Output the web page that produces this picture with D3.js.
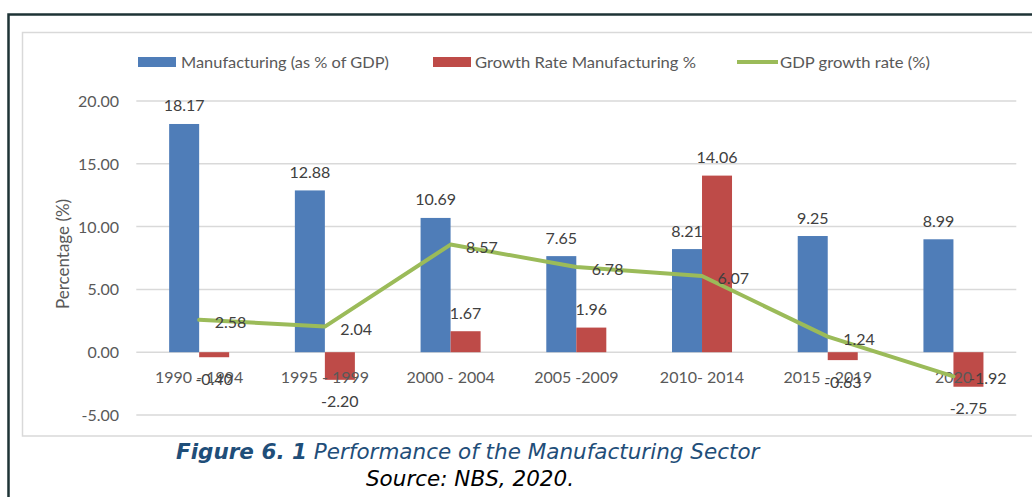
<!DOCTYPE html>
<html>
<head>
<meta charset="utf-8">
<script src="https://cdn.jsdelivr.net/npm/d3@7/dist/d3.min.js"></script>
<style>
  html, body { margin: 0; padding: 0; background: #ffffff; }
  svg { display: block; }
</style>
</head>
<body>
<svg id="chart" width="1032" height="497"></svg>
<script>
// Manufacturing sector indicators by period
const categories = ["1990 - 1994", "1995 - 1999", "2000 - 2004", "2005 -2009", "2010- 2014", "2015 - 2019", "2020"];
const manufShare = [18.17, 12.88, 10.69, 7.65, 8.21, 9.25, 8.99];
const manufGrowth = [-0.40, -2.20, 1.67, 1.96, 14.06, -0.63, -2.75];
const gdpGrowth = [2.58, 2.04, 8.57, 6.78, 6.07, 1.24, -1.92];
const yTicks = [-5, 0, 5, 10, 15, 20];
const seriesNames = ["Manufacturing (as % of GDP)", "Growth Rate Manufacturing %", "GDP growth rate (%)"];

const COLORS = { share: "#4F7DB8", growth: "#BE4B48", gdp: "#9BBB59" };
const TEXT = "#595959";
const LABEL = "#404040";
const FONT = "Lato, 'Open Sans', sans-serif";
const FS = 16;

// Plain hyphen for negative numbers
const fmt = d3.formatLocale({ decimal: ".", thousands: ",", grouping: [3], currency: ["", ""], minus: "-" }).format(".2f");

const svg = d3.select("#chart");

// Frame: dark outer rule and light chart-area border
svg.append("rect").attr("x", 22.5).attr("y", 32.5).attr("width", 1040).attr("height", 403.5)
  .attr("fill", "none").attr("stroke", "#D9D9D9").attr("stroke-width", 1.5);
svg.append("path").attr("d", "M8.5,497 V14.5 H1032")
  .attr("fill", "none").attr("stroke", "#1E3336").attr("stroke-width", 2.5);

const x = d3.scaleBand().domain(categories).range([136.3, 1016.3]).padding(0);
const y = d3.scaleLinear().domain([-5, 20]).range([415, 101]);
const barW = x.bandwidth() * 0.2387;
const sub = d3.scaleOrdinal().domain(["share", "growth"]).range([-barW, 0]);
const cx = c => x(c) + x.bandwidth() / 2;

// Gridlines and value axis
const yAxis = d3.axisLeft(y).tickValues(yTicks).tickFormat(fmt).tickSize(0).tickPadding(0);
const gy = svg.append("g").attr("transform", "translate(119,0)").call(yAxis);
gy.select(".domain").remove();
gy.selectAll("text").attr("font-family", FONT).attr("font-size", FS).attr("fill", TEXT).attr("dy", "0.34em");

svg.append("g").selectAll("line").data(yTicks).join("line")
  .attr("x1", 136.3).attr("x2", 1016.3)
  .attr("y1", d => y(d)).attr("y2", d => y(d))
  .attr("stroke", "#D9D9D9").attr("stroke-width", 1.5);

// Axis title
svg.append("text")
  .attr("transform", "translate(62,254) rotate(-90)")
  .attr("text-anchor", "middle").attr("dominant-baseline", "central")
  .attr("font-family", FONT).attr("font-size", 17).attr("fill", TEXT)
  .text("Percentage (%)");

// Bars
const bars = [];
categories.forEach((c, i) => {
  bars.push({ c, key: "share", v: manufShare[i] });
  bars.push({ c, key: "growth", v: manufGrowth[i] });
});
svg.append("g").selectAll("rect").data(bars).join("rect")
  .attr("x", d => cx(d.c) + sub(d.key))
  .attr("width", barW)
  .attr("y", d => y(Math.max(0, d.v)))
  .attr("height", d => Math.abs(y(d.v) - y(0)))
  .attr("fill", d => COLORS[d.key]);

// Category labels
svg.append("g").selectAll("text").data(categories).join("text")
  .attr("x", d => cx(d)).attr("y", 376)
  .attr("text-anchor", "middle").attr("dominant-baseline", "central")
  .attr("font-family", FONT).attr("font-size", FS).attr("fill", TEXT)
  .text(d => d);

// GDP growth line
const pts = categories.map((c, i) => ({ c, v: gdpGrowth[i] }));
svg.append("path").datum(pts)
  .attr("fill", "none").attr("stroke", COLORS.gdp).attr("stroke-width", 4)
  .attr("stroke-linejoin", "round").attr("stroke-linecap", "round")
  .attr("d", d3.line().x(d => cx(d.c)).y(d => y(d.v)));

// Bar value labels
svg.append("g").selectAll("text").data(bars).join("text")
  .attr("x", d => cx(d.c) + sub(d.key) + barW / 2)
  .attr("y", d => d.v >= 0 ? y(d.v) - 19 : y(d.v) + 21)
  .attr("text-anchor", "middle").attr("dominant-baseline", "central")
  .attr("font-family", FONT).attr("font-size", FS).attr("fill", LABEL)
  .text(d => fmt(d.v));

// Line value labels
svg.append("g").selectAll("text").data(pts).join("text")
  .attr("x", d => cx(d.c) + 15.5)
  .attr("y", d => y(d.v) + 1.5)
  .attr("text-anchor", "start").attr("dominant-baseline", "central")
  .attr("font-family", FONT).attr("font-size", FS).attr("fill", LABEL)
  .text(d => fmt(d.v));

// Legend
const legend = svg.append("g").attr("font-family", FONT).attr("font-size", 15).attr("fill", TEXT);
const legendItems = [
  { name: seriesNames[0], key: "share", sx: 138, tx: 181, w: 208 },
  { name: seriesNames[1], key: "growth", sx: 433, tx: 475, w: 221 },
  { name: seriesNames[2], key: "gdp", sx: 737, tx: 780, w: 150 }
];
legendItems.forEach(it => {
  if (it.key === "gdp") {
    legend.append("line").attr("x1", it.sx).attr("x2", it.sx + 41).attr("y1", 62).attr("y2", 62)
      .attr("stroke", COLORS.gdp).attr("stroke-width", 4);
  } else {
    legend.append("rect").attr("x", it.sx).attr("y", 57).attr("width", 38).attr("height", 10)
      .attr("fill", COLORS[it.key]);
  }
  legend.append("text").attr("x", it.tx).attr("y", 62).attr("dominant-baseline", "central")
    .attr("textLength", it.w).attr("lengthAdjust", "spacingAndGlyphs")
    .text(it.name);
});

// Caption
const cap = svg.append("text").attr("x", 176).attr("y", 459)
  .attr("font-family", "'DejaVu Sans', Verdana, sans-serif").attr("font-size", 21.5)
  .attr("font-style", "italic").attr("fill", "#1F4E79");
cap.append("tspan").attr("font-weight", "bold").text("Figure 6. 1");
cap.append("tspan").text(" Performance of the Manufacturing Sector");

svg.append("text").attr("x", 470).attr("y", 486).attr("text-anchor", "middle")
  .attr("font-family", "'DejaVu Sans', Verdana, sans-serif").attr("font-size", 21.5)
  .attr("font-style", "italic").attr("fill", "#000000")
  .text("Source: NBS, 2020.");
</script>
</body>
</html>
